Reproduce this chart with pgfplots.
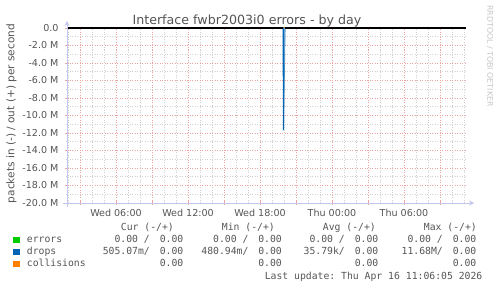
\documentclass[border=0pt]{standalone}
\usepackage{fontspec}
\setmainfont{DejaVu Sans}
\setmonofont{DejaVu Sans Mono}
\usepackage{pgfplots}
\pgfplotsset{compat=1.18}
\usetikzlibrary{arrows.meta}
\definecolor{mgrid}{HTML}{EBA3A3}
\definecolor{mingrid}{HTML}{D0D0D0}
\definecolor{axiscol}{HTML}{C3C6EE}
\definecolor{txt}{HTML}{555555}
\definecolor{errc}{HTML}{00CC00}
\definecolor{dropc}{HTML}{0066B3}
\definecolor{dropf}{HTML}{6FA8D6}
\definecolor{collc}{HTML}{FF8000}
\newcommand{\mono}{\ttfamily\fontsize{9.8}{10}\selectfont\color{txt}}
\begin{document}
\begin{tikzpicture}[x=1bp,y=1bp]
\path[use as bounding box] (0,0) rectangle (497,288);
\begin{axis}[
  at={(67bp,85bp)}, anchor=south west,
  scale only axis, width=399bp, height=175bp,
  xmin=1.9167, xmax=35.1667, ymin=-20, ymax=0,
  axis line style={draw=none},
  clip=false,
  xtick={3,6,...,33},
  xticklabels={,Wed 06:00,,Wed 12:00,,Wed 18:00,,Thu 00:00,,Thu 06:00,},
  minor xtick={2,...,35},
  ytick={-20,-18,...,0},
  yticklabels={-20.0 M,-18.0 M,-16.0 M,-14.0 M,-12.0 M,-10.0 M,-8.0 M,-6.0 M,-4.0 M,-2.0 M,0.0},
  minor ytick={-19,-17,...,-1},
  grid=both,
  major grid style={mgrid, dash pattern=on 1bp off 1.5bp, line width=0.6bp},
  minor grid style={mingrid, dash pattern=on 1bp off 1.5bp, line width=0.6bp},
  tick pos=left, tick align=center,
  major tick length=4bp, minor tick length=2.5bp,
  major tick style={mgrid, line width=0.6bp},
  minor tick style={mingrid, line width=0.6bp},
  ticklabel style={font=\fontsize{9.6}{10}\selectfont, text=txt},
  xticklabel style={yshift=-1bp},
  yticklabel style={xshift=-3bp},
]
\addplot[errc, line width=1bp] coordinates {(1.9167,0) (35.1667,0)};
\addplot[collc, line width=1bp] coordinates {(1.9167,0) (35.1667,0)};
\addplot[draw=none, fill=dropf] coordinates {(19.94,0) (19.96,-11.68) (20.1,0)};
\addplot[dropc!70!white, line width=0.7bp] coordinates {(19.96,-11.68) (20.1,0)};
\addplot[dropc, line width=1.3bp] coordinates {(19.93,0) (19.94,0) (19.96,-11.68)};
\addplot[black, line width=1.1bp] coordinates {(1.9167,0) (19.92,0)};
\addplot[black, line width=1.1bp] coordinates {(20.1,0) (35.1667,0)};
\end{axis}
% axis lines with arrows
\draw[axiscol, line width=0.8bp, -{Stealth[length=5bp,width=5bp]}] (67,81) -- (67,267);
\draw[axiscol, line width=0.8bp, -{Stealth[length=5bp,width=5bp]}] (63,85) -- (474,85);
% title
\node[anchor=base, text=txt, font=\fontsize{12.7}{13}\selectfont, inner sep=0] at (247,263.7) {Interface fwbr2003i0 errors - by day};
% y label
\node[rotate=90, text=txt, font=\fontsize{10.6}{11}\selectfont, inner sep=0] at (11.5,174.5) {packets in (-) / out (+) per second};
% watermark
\node[rotate=-90, text=black!22, font=\fontsize{7.9}{8}\selectfont, inner sep=0] at (490,232) {RRDTOOL / TOBI OETIKER};
% legend
\fill[errc] (13.3,44.7) rectangle (20,51.3);
\fill[dropc] (13.3,32.7) rectangle (20,39.3);
\fill[collc] (13.3,20.7) rectangle (20,27.3);
\node[anchor=base west, inner sep=0, font=\mono] at (26.7,45.3) {errors};
\node[anchor=base west, inner sep=0, font=\mono] at (26.7,33.3) {drops};
\node[anchor=base west, inner sep=0, font=\mono] at (26.7,21.3) {collisions};
% headers
\node[anchor=base east, inner sep=0, font=\mono] at (174,57.3) {Cur (-/+)};
\node[anchor=base east, inner sep=0, font=\mono] at (275,57.3) {Min (-/+)};
\node[anchor=base east, inner sep=0, font=\mono] at (376,57.3) {Avg (-/+)};
\node[anchor=base east, inner sep=0, font=\mono] at (477,57.3) {Max (-/+)};
% row errors
\node[anchor=base east, inner sep=0, font=\mono] at (150,45.3) {0.00 /};
\node[anchor=base east, inner sep=0, font=\mono] at (183.5,45.3) {0.00};
\node[anchor=base east, inner sep=0, font=\mono] at (248.7,45.3) {0.00 /};
\node[anchor=base east, inner sep=0, font=\mono] at (282,45.3) {0.00};
\node[anchor=base east, inner sep=0, font=\mono] at (345,45.3) {0.00 /};
\node[anchor=base east, inner sep=0, font=\mono] at (378.5,45.3) {0.00};
\node[anchor=base east, inner sep=0, font=\mono] at (443,45.3) {0.00 /};
\node[anchor=base east, inner sep=0, font=\mono] at (476.5,45.3) {0.00};
% row drops
\node[anchor=base east, inner sep=0, font=\mono] at (150,33.3) {505.07m/};
\node[anchor=base east, inner sep=0, font=\mono] at (183.5,33.3) {0.00};
\node[anchor=base east, inner sep=0, font=\mono] at (248.7,33.3) {480.94m/};
\node[anchor=base east, inner sep=0, font=\mono] at (282,33.3) {0.00};
\node[anchor=base east, inner sep=0, font=\mono] at (345,33.3) {35.79k/};
\node[anchor=base east, inner sep=0, font=\mono] at (378.5,33.3) {0.00};
\node[anchor=base east, inner sep=0, font=\mono] at (443,33.3) {11.68M/};
\node[anchor=base east, inner sep=0, font=\mono] at (476.5,33.3) {0.00};
% row collisions
\node[anchor=base east, inner sep=0, font=\mono] at (183.5,21.3) {0.00};
\node[anchor=base east, inner sep=0, font=\mono] at (282,21.3) {0.00};
\node[anchor=base east, inner sep=0, font=\mono] at (378.5,21.3) {0.00};
\node[anchor=base east, inner sep=0, font=\mono] at (476.5,21.3) {0.00};
% last update
\node[anchor=base east, inner sep=0, font=\mono] at (482.5,9) {Last update: Thu Apr 16 11:06:05 2026};
\end{tikzpicture}
\end{document}
